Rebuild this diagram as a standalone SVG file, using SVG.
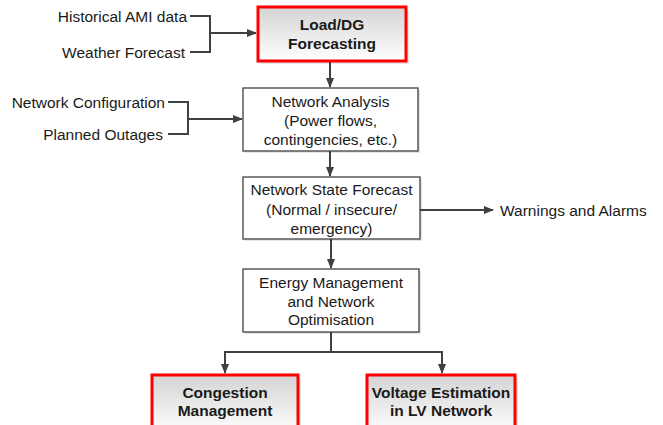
<svg xmlns="http://www.w3.org/2000/svg" width="663" height="425" viewBox="0 0 663 425">
<style>
text{font-family:"Liberation Sans",Arial,sans-serif;font-size:15.5px;fill:#1a1a1a}
.c{text-anchor:middle}
.b{font-weight:bold}
.box{fill:#fff;stroke:#404040;stroke-width:1.3}
.red{fill:url(#g);stroke:#ff0000;stroke-width:3}
.ln{fill:none;stroke:#404040;stroke-width:2}
.sh{fill:#000;opacity:0.1}
</style>
<defs>
<linearGradient id="g" x1="0" y1="0" x2="0" y2="1">
<stop offset="0" stop-color="#d4d4d4"/>
<stop offset="1" stop-color="#ffffff"/>
</linearGradient>
<marker id="a" markerWidth="10" markerHeight="8" refX="9" refY="4" orient="auto" markerUnits="userSpaceOnUse">
<path d="M0,0 L10,4 L0,8 Z" fill="#404040"/>
</marker>
</defs>
<g id="connectors">
<path class="ln" d="M190,16 H210 V52 H190"/>
<path class="ln" d="M210,33 H256" marker-end="url(#a)"/>
<path class="ln" d="M168,102 H188 V134 H168"/>
<path class="ln" d="M188,119 H242" marker-end="url(#a)"/>
<path class="ln" d="M330,62 V87" marker-end="url(#a)"/>
<path class="ln" d="M330,151 V176" marker-end="url(#a)"/>
<path class="ln" d="M420,210 H493" marker-end="url(#a)"/>
<path class="ln" d="M331,239 V268" marker-end="url(#a)"/>
<path class="ln" d="M331,332 V352"/>
<path class="ln" d="M225,352 H442"/>
<path class="ln" d="M225,351 V373" marker-end="url(#a)"/>
<path class="ln" d="M442,351 V373" marker-end="url(#a)"/>
</g>
<g id="inputs">
<text x="187" y="21.5" text-anchor="end">Historical AMI data</text>
<text x="185" y="57.5" text-anchor="end">Weather Forecast</text>
<text x="165" y="107.5" text-anchor="end">Network Configuration</text>
<text x="163" y="139.5" text-anchor="end">Planned Outages</text>
</g>
<g id="load-dg">
<rect class="sh" x="261" y="10" width="148" height="54"/>
<rect class="red" x="258" y="7" width="148" height="54"/>
<text class="c b" x="332" y="30">Load/DG</text>
<text class="c b" x="332" y="49">Forecasting</text>
</g>
<g id="network-analysis">
<rect class="sh" x="245" y="90" width="175" height="63"/>
<rect class="box" x="243" y="88" width="175" height="63"/>
<text class="c" x="330.5" y="107">Network Analysis</text>
<text class="c" x="330.5" y="126">(Power flows,</text>
<text class="c" x="330.5" y="145">contingencies, etc.)</text>
</g>
<g id="network-state">
<rect class="sh" x="245" y="179" width="177" height="62"/>
<rect class="box" x="243" y="177" width="177" height="62"/>
<text class="c" x="331.5" y="194.5">Network State Forecast</text>
<text class="c" x="331.5" y="214.5">(Normal / insecure/</text>
<text class="c" x="331.5" y="233.5">emergency)</text>
</g>
<g id="warnings">
<text x="500" y="216">Warnings and Alarms</text>
</g>
<g id="energy-management">
<rect class="sh" x="245" y="271" width="176" height="63"/>
<rect class="box" x="243" y="269" width="176" height="63"/>
<text class="c" x="331" y="288">Energy Management</text>
<text class="c" x="331" y="306.5">and Network</text>
<text class="c" x="331" y="325">Optimisation</text>
</g>
<g id="congestion">
<rect class="sh" x="155" y="378" width="146" height="60"/>
<rect class="red" x="152" y="375" width="146" height="60"/>
<text class="c b" x="225" y="398">Congestion</text>
<text class="c b" x="225" y="415.5">Management</text>
</g>
<g id="voltage">
<rect class="sh" x="370" y="378" width="148" height="60"/>
<rect class="red" x="367" y="375" width="148" height="60"/>
<text class="c b" x="441" y="398">Voltage Estimation</text>
<text class="c b" x="441" y="415.5">in LV Network</text>
</g>
</svg>
